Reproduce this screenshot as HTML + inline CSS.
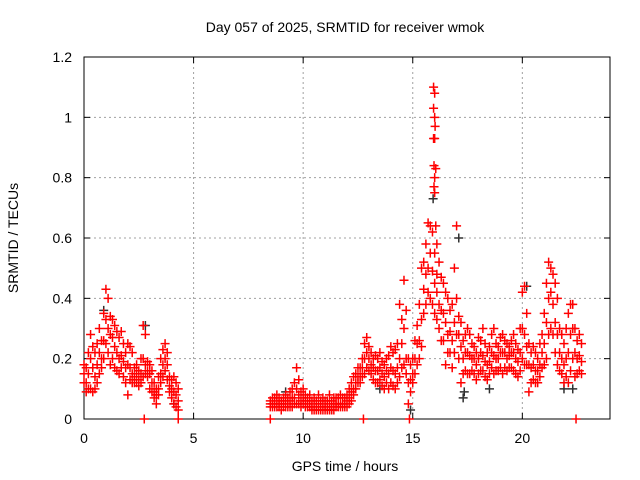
<!DOCTYPE html>
<html><head><meta charset="utf-8"><style>
body{margin:0;background:#fff;}
svg{display:block;font-family:"Liberation Sans",sans-serif;}
</style></head><body>
<svg id="chart" width="640" height="480" viewBox="0 0 640 480" xmlns="http://www.w3.org/2000/svg">
<rect width="640" height="480" fill="#fff"/>
<text x="345" y="32" font-size="14" text-anchor="middle">Day 057 of 2025, SRMTID for receiver wmok</text>
<text x="345" y="471" font-size="14" text-anchor="middle">GPS time / hours</text>
<text x="0" y="0" font-size="14" text-anchor="middle" transform="translate(18,238) rotate(-90)">SRMTID / TECUs</text>
<g id="grid"></g>
<g id="axes"></g>
<g id="black"></g>
<g id="red"></g>
</svg>
<script>
const xTicks=[0,5,10,15,20];
const yTicks=[0,0.2,0.4,0.6,0.8,1,1.2];
const yTickLabels=["0","0.2","0.4","0.6","0.8","1","1.2"];
const seg1Start=0, seg2Start=8.5;
const seg1Hi=[.18,.17,.22,.28,.24,.22,.25,.30,.26,.35,.43,.40,.34,.33,.31,.29,.27,.29,.25,.22,.25,.24,.22,.17,.18,.16,.20,.31,.28,.19,.18,.16,.12,.10,.14,.20,.23,.25,.22,.14,.13,.14,.12,.10];
const seg1Mid=[.15,.12,.15,.20,.17,.14,.18,.22,.20,.26,.33,.30,.28,.27,.24,.22,.20,.21,.19,.17,.18,.17,.15,.14,.15,.13,.15,.20,.18,.16,.15,.12,.09,.08,.10,.15,.18,.20,.18,.11,.10,.09,.08,.06];
const seg1Lo=[.12,.09,.10,.10,.09,.10,.12,.15,.17,.20,.25,.22,.18,.20,.17,.16,.15,.17,.14,.12,.08,.13,.12,.12,.12,.11,.12,.14,.15,.14,.10,.09,.07,.05,.08,.12,.14,.16,.13,.09,.07,.05,.04,.03];
const seg2Hi=[.06,.07,.07,.08,.07,.06,.07,.08,.07,.09,.10,.12,.17,.13,.09,.10,.08,.07,.08,.06,.07,.06,.08,.06,.07,.06,.06,.08,.06,.07,.07,.07,.08,.07,.07,.08,.10,.12,.14,.15,.17,.17,.20,.25,.27,.24,.22,.20,.21,.20,.22,.19,.18,.20,.21,.24,.22,.23,.25,.38,.33,.46,.36,.20,.18,.20,.26,.31,.38,.50,.52,.58,.65,.64,.62,.55,.48,.52,.47,.45,.42,.40,.36,.38,.50,.64,.34,.32,.26,.28,.30,.28,.25,.24,.22,.27,.26,.30,.25,.22,.24,.28,.30,.25,.24,.27,.28,.26,.25,.24,.26,.28,.25,.23,.30,.42,.44,.35,.25,.22,.24,.22,.20,.25,.28,.35,.45,.52,.50,.48,.45,.40,.30,.28,.25,.30,.35,.38,.38,.30,.26,.28,.25];
const seg2Mid=[.05,.05,.05,.06,.05,.05,.05,.06,.05,.06,.07,.07,.10,.08,.06,.07,.06,.05,.06,.04,.05,.04,.05,.04,.05,.04,.04,.05,.04,.05,.05,.05,.05,.05,.05,.06,.07,.09,.10,.12,.14,.14,.17,.20,.22,.20,.18,.17,.16,.16,.17,.15,.14,.16,.15,.17,.16,.15,.17,.20,.25,.30,.20,.12,.13,.15,.20,.25,.26,.33,.43,.48,.50,.55,.49,.45,.42,.38,.36,.35,.32,.28,.29,.26,.32,.40,.28,.24,.20,.22,.22,.21,.20,.20,.18,.20,.22,.21,.19,.18,.19,.22,.21,.20,.20,.22,.22,.22,.20,.21,.22,.22,.20,.19,.22,.30,.28,.24,.18,.17,.18,.16,.16,.18,.22,.25,.32,.40,.42,.38,.32,.28,.22,.20,.18,.20,.22,.28,.30,.22,.20,.21,.19];
const seg2Lo=[.04,.04,.04,.04,.04,.03,.04,.04,.04,.04,.04,.05,.05,.05,.04,.05,.04,.04,.04,.03,.03,.03,.03,.03,.03,.03,.03,.03,.03,.03,.04,.04,.04,.04,.04,.04,.05,.06,.08,.10,.12,.12,.14,.15,.17,.16,.15,.13,.12,.12,.13,.11,.10,.12,.10,.12,.11,.10,.12,.14,.17,.18,.15,.05,.09,.12,.15,.18,.20,.24,.35,.38,.42,.40,.38,.35,.33,.30,.26,.26,.18,.22,.22,.17,.22,.28,.20,.12,.15,.16,.15,.15,.16,.15,.13,.15,.16,.16,.14,.13,.15,.17,.15,.16,.16,.17,.15,.17,.16,.17,.17,.16,.15,.14,.16,.20,.18,.18,.09,.12,.13,.12,.12,.14,.17,.18,.20,.28,.30,.28,.22,.18,.16,.15,.12,.14,.12,.16,.20,.14,.15,.16,.15];
const spikeT=[15.95,16.0,15.95,16.0,16.02,15.95,16.0,15.97,16.05,16.0,15.97,16.0,16.05,16.1,2.75,4.3,8.5,12.75,14.85,22.45];
const spikeV=[1.10,1.08,1.03,1.00,0.97,0.93,0.93,0.84,0.83,0.80,0.77,0.75,0.64,0.58,0,0,0,0,0,0];
const blackT=[17.3,15.93,20.2,2.8,13.5,18.5,9.2,22.3,17.1,0.9,17.35,4.1,14.9,11.3,21.9];
const blackV=[0.07,0.73,0.44,0.31,0.10,0.10,0.09,0.10,0.60,0.36,0.09,0.05,0.03,0.03,0.10];

const X0=84,X1=610,Y0=419,Y1=57,XMAX=24,YMAX=1.2;
const NS="http://www.w3.org/2000/svg";
function xs(t){return X0+(X1-X0)*t/XMAX;}
function ys(v){return Y0-(Y0-Y1)*v/YMAX;}
function mk(tag,attrs,parent){const e=document.createElementNS(NS,tag);for(const k in attrs)e.setAttribute(k,attrs[k]);parent.appendChild(e);return e;}
const grid=document.getElementById('grid'),axes=document.getElementById('axes');
xTicks.forEach((t,i)=>{
  const x=xs(t);
  if(t>0){const g=mk('line',{x1:x,x2:x,y1:Y1,y2:Y0,stroke:'#a0a0a0','stroke-dasharray':'2,3','stroke-width':1},grid);
  
  }
  mk('line',{x1:x,x2:x,y1:Y0,y2:Y0-6,stroke:'#000'},axes);
  mk('line',{x1:x,x2:x,y1:Y1,y2:Y1+6,stroke:'#000'},axes);
  const l=mk('text',{x:x,y:Y0+24,'font-size':14,'text-anchor':'middle'},axes);
  l.textContent=String(t);
  
  
});
yTicks.forEach((v,i)=>{
  const y=ys(v);
  if(v>0&&v<YMAX){const g=mk('line',{x1:X0,x2:X1,y1:y,y2:y,stroke:'#a0a0a0','stroke-dasharray':'2,3','stroke-width':1},grid);
  
  }
  mk('line',{x1:X0,x2:X0+6,y1:y,y2:y,stroke:'#000'},axes);
  mk('line',{x1:X1,x2:X1-6,y1:y,y2:y,stroke:'#000'},axes);
  const l=mk('text',{x:X0-12,y:y+5,'font-size':14,'text-anchor':'end'},axes);
  l.textContent=yTickLabels[i];
  
  
});
const frame=mk('rect',{x:X0,y:Y1,width:X1-X0,height:Y0-Y1,fill:'none',stroke:'#000','stroke-width':1},axes);


function plus(t,v,color,parent){
  const x=xs(t),y=ys(v);
  const p=mk('path',{d:`M${x-4.5},${y}H${x+4.5}M${x},${y-4.5}V${y+4.5}`,stroke:color,'stroke-width':1.5,fill:'none'},parent);
  
  
}
const blk=document.getElementById('black'),red=document.getElementById('red');
blackT.forEach((t,i)=>plus(t,blackV[i],'#303030',blk));
function seg(start,arrs){arrs.forEach(a=>a.forEach((v,i)=>plus(start+i*0.1,v,'#ff0000',red)));}
seg(seg1Start,[seg1Hi,seg1Mid,seg1Lo]);
seg(seg2Start,[seg2Hi,seg2Mid,seg2Lo]);
spikeT.forEach((t,i)=>plus(t,spikeV[i],'#ff0000',red));
</script>
</body></html>
